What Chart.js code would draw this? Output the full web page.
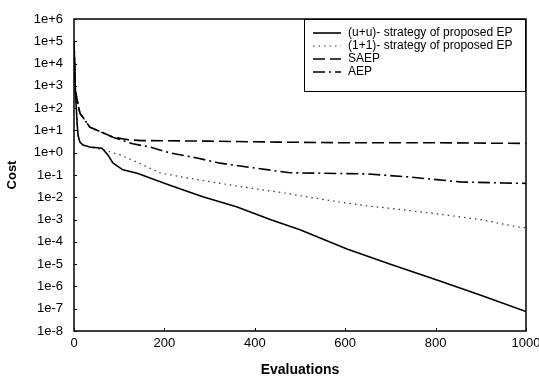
<!DOCTYPE html>
<html>
<head>
<meta charset="utf-8">
<script src="https://cdn.jsdelivr.net/npm/chart.js@4/dist/chart.umd.min.js"></script>
<style>
  html, body { margin: 0; padding: 0; background: #fff; }
  #wrap { width: 539px; height: 377px; }
</style>
</head>
<body>
<div id="wrap"><canvas id="costChart" width="539" height="377"></canvas></div>
<script>
// Series (evaluations vs cost)
const uuEvals = [0, 3, 7, 9, 13, 20, 35, 62, 75, 86, 108, 140, 212, 285, 361, 434, 500, 604, 700, 803, 900, 1000];
const uuCost = [1e5, 600, 20, 6, 3, 2.2, 1.8, 1.6, 0.8, 0.35, 0.17, 0.12, 0.035, 0.0105, 0.0037, 0.001, 3.5e-4, 4.8e-5, 1e-5, 1.95e-6, 4e-7, 7.5e-8];

const oneEvals = [0, 3, 7, 9, 13, 20, 35, 64, 102, 139, 190, 250, 301, 361, 427, 462, 550, 648, 700, 803, 900, 980, 1000];
const oneCost = [1e5, 600, 20, 6, 3, 2.2, 1.8, 1.35, 0.8, 0.38, 0.125, 0.074, 0.05, 0.032, 0.02, 0.016, 0.008, 0.0041, 0.0032, 0.0018, 0.001, 4.7e-4, 4.3e-4];

const saepEvals = [0, 3, 13, 35, 64, 86, 120, 150, 300, 450, 600, 800, 1000];
const saepCost = [1e5, 600, 60, 14, 7.8, 5, 3.8, 3.5, 3.3, 3.0, 2.8, 2.8, 2.6];

const aepEvals = [0, 3, 13, 35, 64, 86, 130, 168, 212, 272, 323, 396, 478, 648, 743, 854, 949, 1000];
const aepCost = [1e5, 600, 60, 14, 7.8, 5, 2.5, 1.8, 0.98, 0.58, 0.34, 0.21, 0.126, 0.112, 0.081, 0.049, 0.044, 0.042];

const seriesLabels = ['(u+u)- strategy of proposed EP', '(1+1)- strategy of proposed EP', 'SAEP', 'AEP'];

// Axis ticks
const xTicks = [0, 200, 400, 600, 800, 1000];
const yTickValues = [1e-8, 1e-7, 1e-6, 1e-5, 1e-4, 1e-3, 1e-2, 1e-1, 1e0, 1e1, 1e2, 1e3, 1e4, 1e5, 1e6];
const yTickLabels = ['1e-8', '1e-7', '1e-6', '1e-5', '1e-4', '1e-3', '1e-2', '1e-1', '1e+0', '1e+1', '1e+2', '1e+3', '1e+4', '1e+5', '1e+6'];

const FONT = '"Liberation Sans", Arial, sans-serif';

function pairs(xs, ys) {
  return xs.map((x, i) => ({ x: x, y: ys[i] }));
}

// frame, inward tick marks and the boxed legend
const framePlugin = {
  id: 'frame',
  afterDatasetsDraw(chart) {
    const ctx = chart.ctx;
    const a = chart.chartArea;
    const xs = chart.scales.x, ys = chart.scales.y;
    ctx.save();
    ctx.strokeStyle = '#000';
    ctx.lineWidth = 1.5;
    ctx.setLineDash([]);
    ctx.strokeRect(a.left, a.top, a.right - a.left, a.bottom - a.top);

    ctx.lineWidth = 1;
    ctx.beginPath();
    yTickValues.forEach(v => {
      const py = Math.round(ys.getPixelForValue(v)) + 0.5;
      ctx.moveTo(a.left, py);
      ctx.lineTo(a.left + 3, py);
    });
    xTicks.forEach(v => {
      const px = Math.round(xs.getPixelForValue(v)) + 0.5;
      ctx.moveTo(px, a.bottom);
      ctx.lineTo(px, a.bottom - 3);
    });
    ctx.stroke();

    // legend box
    const bx = 304, by = a.top, bw = a.right - 1 - 304, bh = 72;
    ctx.fillStyle = '#fff';
    ctx.fillRect(bx, by, bw, bh);
    ctx.lineWidth = 1;
    ctx.strokeRect(bx + 0.5, by + 0.5, bw, bh);

    ctx.font = '12px ' + FONT;
    ctx.textBaseline = 'middle';
    chart.data.datasets.forEach((ds, i) => {
      const ry = by + 14 + i * 13;
      ctx.strokeStyle = ds.borderColor;
      ctx.lineWidth = ds.borderWidth;
      ctx.setLineDash(ds.borderDash || []);
      ctx.beginPath();
      ctx.moveTo(313, ry);
      ctx.lineTo(341, ry);
      ctx.stroke();
      ctx.setLineDash([]);
      ctx.fillStyle = '#000';
      ctx.fillText(ds.label, 348, ry);
    });
    ctx.restore();
  }
};

const ctx = document.getElementById('costChart').getContext('2d');
new Chart(ctx, {
  type: 'line',
  data: {
    datasets: [
      {
        label: seriesLabels[0],
        data: pairs(uuEvals, uuCost),
        borderColor: '#000',
        borderWidth: 1.6,
        pointRadius: 0,
        tension: 0
      },
      {
        label: seriesLabels[1],
        data: pairs(oneEvals, oneCost),
        borderColor: '#333',
        borderWidth: 1.2,
        borderDash: [1.5, 4],
        pointRadius: 0,
        tension: 0
      },
      {
        label: seriesLabels[2],
        data: pairs(saepEvals, saepCost),
        borderColor: '#000',
        borderWidth: 1.6,
        borderDash: [12, 5],
        pointRadius: 0,
        tension: 0
      },
      {
        label: seriesLabels[3],
        data: pairs(aepEvals, aepCost),
        borderColor: '#000',
        borderWidth: 1.6,
        borderDash: [12, 4, 2, 4],
        pointRadius: 0,
        tension: 0
      }
    ]
  },
  options: {
    responsive: false,
    animation: false,
    layout: {
      padding: { left: 0, right: 13, top: 19, bottom: 0 }
    },
    plugins: {
      legend: { display: false },
      tooltip: { enabled: false }
    },
    scales: {
      x: {
        type: 'linear',
        min: 0,
        max: 1000,
        afterBuildTicks: function(scale) {
          scale.ticks = xTicks.map(v => ({ value: v }));
        },
        afterFit: function(scale) {
          scale.height = 46;
          scale.paddingRight = 0;
        },
        grid: { display: false, drawTicks: false },
        border: { display: false },
        ticks: {
          color: '#000',
          padding: 5,
          maxRotation: 0,
          font: { family: FONT, size: 13 },
          callback: function(value) {
            return String(value);
          }
        },
        title: {
          display: true,
          text: 'Evaluations',
          color: '#000',
          padding: { top: 0, bottom: 0 },
          font: { family: FONT, size: 14, weight: 'bold', lineHeight: 1 }
        }
      },
      y: {
        type: 'logarithmic',
        min: 1e-8,
        max: 1e6,
        afterBuildTicks: function(scale) {
          scale.ticks = yTickValues.map(v => ({ value: v }));
        },
        afterFit: function(scale) {
          scale.width = 74;
        },
        grid: { display: false, drawTicks: false },
        border: { display: false },
        ticks: {
          color: '#000',
          padding: 11,
          autoSkip: false,
          font: { family: FONT, size: 13 },
          callback: function(value) {
            const i = yTickValues.findIndex(v => Math.abs(Math.log10(v) - Math.log10(value)) < 1e-6);
            return i >= 0 ? yTickLabels[i] : '';
          }
        },
        title: {
          display: true,
          text: 'Cost',
          color: '#000',
          padding: { top: 6, bottom: 0 },
          font: { family: FONT, size: 13, weight: 'bold', lineHeight: 1 }
        }
      }
    }
  },
  plugins: [framePlugin]
});
</script>
</body>
</html>
